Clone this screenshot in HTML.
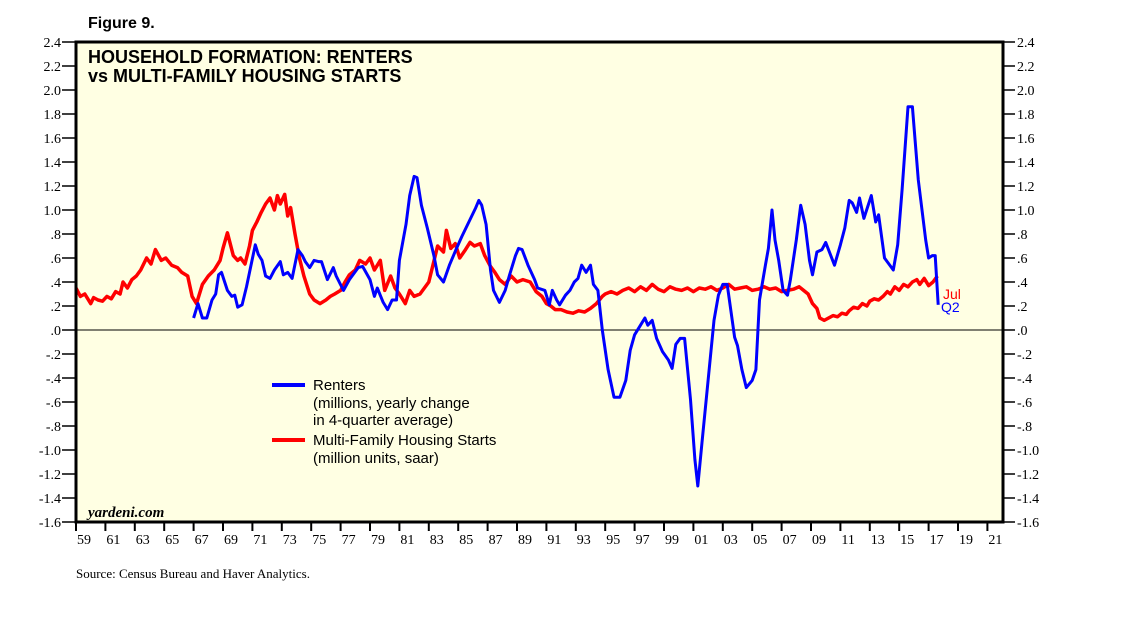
<!DOCTYPE html>
<html><head><meta charset="utf-8"><style>
body{margin:0;background:#fff;width:1138px;height:621px;overflow:hidden}
svg{display:block}
</style></head><body>
<svg id="chart" width="1138" height="621" xmlns="http://www.w3.org/2000/svg">
<text x="88" y="28" font-family="Liberation Sans,sans-serif" font-weight="bold" font-size="16">Figure 9.</text>
<rect x="76" y="42" width="927" height="480" fill="#FFFFE3"/>
<g id="ticks"></g>
<line x1="76" y1="330" x2="1003" y2="330" stroke="#000" stroke-width="1"/>
<g id="series"></g>
<rect x="76" y="42" width="927" height="480" fill="none" stroke="#000" stroke-width="3"/>
<text font-family="Liberation Sans,sans-serif" font-weight="bold" font-size="18"><tspan x="88" y="63">HOUSEHOLD FORMATION: RENTERS</tspan><tspan x="88" y="82">vs MULTI-FAMILY HOUSING STARTS</tspan></text>
<g font-family="Liberation Sans,sans-serif" font-size="15">
<line x1="272" y1="385" x2="305" y2="385" stroke="#0000FF" stroke-width="4"/>
<text x="313" y="390"><tspan x="313" y="390">Renters</tspan><tspan x="313" y="408">(millions, yearly change</tspan><tspan x="313" y="425">in 4-quarter average)</tspan></text>
<line x1="272" y1="440" x2="305" y2="440" stroke="#FF0000" stroke-width="4"/>
<text x="313" y="445"><tspan x="313" y="445">Multi-Family Housing Starts</tspan><tspan x="313" y="463">(million units, saar)</tspan></text>
</g>
<text x="943" y="299" fill="#FF0000" font-family="Liberation Sans,sans-serif" font-size="14">Jul</text>
<text x="941" y="312" fill="#0000FF" font-family="Liberation Sans,sans-serif" font-size="14">Q2</text>
<text x="88" y="517" font-family="Liberation Serif,serif" font-style="italic" font-weight="bold" font-size="15">yardeni.com</text>
<text x="76" y="578" font-family="Liberation Serif,serif" font-size="13">Source: Census Bureau and Haver Analytics.</text>
</svg>
<script>
const yTicks=[2.4,2.2,2.0,1.8,1.6,1.4,1.2,1.0,0.8,0.6,0.4,0.2,0,-0.2,-0.4,-0.6,-0.8,-1.0,-1.2,-1.4,-1.6];
const xLabels=["59","61","63","65","67","69","71","73","75","77","79","81","83","85","87","89","91","93","95","97","99","01","03","05","07","09","11","13","15","17","19","21"];
const rentersYears=[1967.0,1967.3,1967.6,1967.9,1968.25,1968.5,1968.7,1968.9,1969.3,1969.6,1969.8,1970.0,1970.3,1970.6,1970.8,1971.2,1971.4,1971.65,1971.9,1972.2,1972.5,1972.9,1973.1,1973.4,1973.7,1974.1,1974.4,1974.6,1974.9,1975.2,1975.5,1975.7,1976.1,1976.5,1976.7,1977.2,1977.6,1978.2,1978.5,1979.0,1979.3,1979.5,1979.9,1980.2,1980.5,1980.8,1981.0,1981.45,1981.7,1982.0,1982.2,1982.5,1982.9,1983.35,1983.6,1984.0,1984.4,1984.85,1985.25,1985.8,1986.2,1986.4,1986.6,1986.9,1987.2,1987.4,1987.8,1988.2,1988.5,1988.9,1989.1,1989.35,1989.75,1990.2,1990.4,1990.9,1991.2,1991.4,1991.7,1991.9,1992.3,1992.6,1992.9,1993.15,1993.4,1993.7,1994.0,1994.2,1994.5,1994.8,1995.2,1995.6,1996.0,1996.4,1996.7,1997.0,1997.4,1997.7,1997.9,1998.2,1998.5,1998.9,1999.3,1999.55,1999.8,2000.1,2000.4,2000.8,2001.1,2001.3,2001.6,2002.0,2002.4,2002.7,2003.0,2003.3,2003.8,2004.0,2004.3,2004.6,2005.0,2005.25,2005.5,2005.9,2006.1,2006.35,2006.55,2006.8,2007.1,2007.4,2007.6,2008.0,2008.3,2008.6,2008.9,2009.1,2009.4,2009.75,2010.0,2010.6,2011.0,2011.3,2011.6,2011.8,2012.1,2012.3,2012.6,2013.1,2013.4,2013.6,2014.0,2014.6,2014.9,2015.2,2015.6,2015.9,2016.3,2016.8,2017.0,2017.25,2017.45,2017.65];
const rentersValues=[0.1,0.22,0.1,0.1,0.25,0.3,0.46,0.48,0.33,0.28,0.29,0.19,0.21,0.36,0.48,0.71,0.63,0.58,0.45,0.43,0.5,0.57,0.46,0.48,0.43,0.67,0.62,0.57,0.52,0.58,0.57,0.57,0.42,0.52,0.45,0.33,0.42,0.52,0.53,0.42,0.28,0.35,0.23,0.17,0.25,0.25,0.58,0.88,1.12,1.28,1.27,1.04,0.85,0.62,0.46,0.4,0.54,0.67,0.78,0.92,1.02,1.08,1.04,0.88,0.5,0.33,0.23,0.33,0.46,0.62,0.68,0.67,0.54,0.42,0.35,0.33,0.21,0.33,0.25,0.21,0.29,0.33,0.4,0.43,0.54,0.48,0.54,0.38,0.33,0.0,-0.33,-0.56,-0.56,-0.42,-0.17,-0.04,0.04,0.1,0.04,0.08,-0.07,-0.18,-0.25,-0.32,-0.12,-0.07,-0.07,-0.58,-1.08,-1.3,-0.92,-0.42,0.08,0.29,0.38,0.38,-0.06,-0.13,-0.33,-0.48,-0.42,-0.33,0.25,0.54,0.68,1.0,0.75,0.58,0.33,0.29,0.42,0.75,1.04,0.88,0.58,0.46,0.65,0.67,0.73,0.54,0.71,0.85,1.08,1.06,0.98,1.1,0.93,1.12,0.9,0.96,0.6,0.5,0.71,1.17,1.86,1.86,1.25,0.75,0.6,0.62,0.62,0.21];
const startsYears=[1959.0,1959.3,1959.6,1960.0,1960.2,1960.5,1960.8,1961.1,1961.4,1961.7,1962.0,1962.2,1962.5,1962.8,1963.1,1963.4,1963.8,1964.1,1964.4,1964.8,1965.1,1965.5,1965.9,1966.2,1966.6,1966.9,1967.2,1967.6,1968.0,1968.4,1968.8,1969.0,1969.3,1969.7,1970.0,1970.2,1970.5,1970.8,1971.0,1971.3,1971.6,1971.9,1972.2,1972.5,1972.7,1972.9,1973.2,1973.4,1973.6,1973.9,1974.2,1974.5,1974.9,1975.2,1975.6,1976.0,1976.3,1976.6,1977.0,1977.3,1977.6,1978.0,1978.3,1978.7,1979.0,1979.3,1979.7,1980.0,1980.4,1980.7,1981.0,1981.4,1981.7,1982.0,1982.4,1982.7,1983.0,1983.3,1983.6,1984.0,1984.2,1984.5,1984.8,1985.1,1985.5,1985.8,1986.1,1986.5,1986.8,1987.2,1987.5,1987.8,1988.2,1988.6,1989.0,1989.4,1989.9,1990.3,1990.7,1991.0,1991.3,1991.6,1992.0,1992.4,1992.8,1993.2,1993.6,1994.0,1994.4,1994.8,1995.0,1995.4,1995.8,1996.2,1996.6,1997.0,1997.4,1997.8,1998.2,1998.6,1999.0,1999.4,1999.8,2000.2,2000.6,2001.0,2001.4,2001.8,2002.2,2002.6,2003.0,2003.4,2003.8,2004.2,2004.6,2005.0,2005.4,2005.8,2006.2,2006.6,2007.0,2007.4,2007.8,2008.2,2008.5,2008.8,2009.1,2009.4,2009.6,2009.9,2010.2,2010.5,2010.8,2011.1,2011.4,2011.6,2011.9,2012.2,2012.5,2012.8,2013.0,2013.3,2013.6,2013.9,2014.2,2014.4,2014.7,2015.0,2015.3,2015.6,2015.9,2016.2,2016.4,2016.7,2017.0,2017.3,2017.6];
const startsValues=[0.35,0.28,0.3,0.22,0.27,0.25,0.24,0.28,0.26,0.32,0.3,0.4,0.35,0.42,0.45,0.5,0.6,0.55,0.67,0.58,0.6,0.54,0.52,0.48,0.45,0.28,0.22,0.38,0.45,0.5,0.58,0.68,0.81,0.62,0.58,0.6,0.55,0.7,0.83,0.9,0.98,1.05,1.1,1.0,1.12,1.05,1.13,0.95,1.02,0.8,0.6,0.45,0.3,0.25,0.22,0.25,0.28,0.3,0.33,0.4,0.46,0.5,0.58,0.55,0.6,0.5,0.58,0.33,0.45,0.35,0.3,0.22,0.33,0.28,0.3,0.35,0.4,0.55,0.7,0.65,0.83,0.68,0.72,0.6,0.67,0.73,0.7,0.72,0.62,0.53,0.48,0.42,0.38,0.45,0.4,0.42,0.4,0.32,0.28,0.22,0.2,0.17,0.17,0.15,0.14,0.16,0.15,0.18,0.22,0.28,0.3,0.32,0.3,0.33,0.35,0.32,0.36,0.33,0.38,0.34,0.32,0.36,0.34,0.33,0.35,0.32,0.35,0.34,0.36,0.33,0.35,0.38,0.34,0.35,0.36,0.33,0.34,0.36,0.34,0.35,0.32,0.33,0.34,0.36,0.33,0.3,0.22,0.18,0.1,0.08,0.1,0.12,0.11,0.14,0.13,0.16,0.19,0.18,0.22,0.2,0.24,0.26,0.25,0.28,0.32,0.3,0.36,0.33,0.38,0.36,0.4,0.42,0.38,0.43,0.37,0.4,0.45,0.38,0.32];
const NS='http://www.w3.org/2000/svg';
const X0=76,PXY=14.7,Y0=330,PXV=120;
function xs(year){return X0+(year-1959)*PXY;}
function ys(v){return Y0-v*PXV;}
const tg=document.getElementById('ticks');
const svg=document.getElementById('chart');
yTicks.forEach(v=>{
  const y=ys(v);
  const lab=(v<0?'-':'')+(Math.abs(v)<1?Math.abs(v).toFixed(1).replace(/^0/,''):Math.abs(v).toFixed(1));
  const l1=document.createElementNS(NS,'line');
  l1.setAttribute('x1',62);l1.setAttribute('x2',76);l1.setAttribute('y1',y);l1.setAttribute('y2',y);l1.setAttribute('stroke','#000');l1.setAttribute('stroke-width','1.5');
  
  
  svg.insertBefore(l1,tg);
  const l2=document.createElementNS(NS,'line');
  l2.setAttribute('x1',1003);l2.setAttribute('x2',1015);l2.setAttribute('y1',y);l2.setAttribute('y2',y);l2.setAttribute('stroke','#000');l2.setAttribute('stroke-width','1.5');
  
  
  svg.insertBefore(l2,tg);
  const t=document.createElementNS(NS,'text');
  t.setAttribute('x',61);t.setAttribute('y',y+5);t.setAttribute('text-anchor','end');
  t.setAttribute('font-family','Liberation Serif,serif');t.setAttribute('font-size','14');
  t.textContent=lab;
  
  
  svg.appendChild(t);
  const t2=document.createElementNS(NS,'text');
  t2.setAttribute('x',1017);t2.setAttribute('y',y+5);
  t2.setAttribute('font-family','Liberation Serif,serif');t2.setAttribute('font-size','14');
  t2.textContent=lab;
  
  
  svg.appendChild(t2);
});
xLabels.forEach((s,i)=>{
  const x=xs(1959+2*i);
  const l=document.createElementNS(NS,'line');
  l.setAttribute('x1',x);l.setAttribute('x2',x);l.setAttribute('y1',522);l.setAttribute('y2',531);l.setAttribute('stroke','#000');l.setAttribute('stroke-width','2');
  
  
  svg.appendChild(l);
  const t=document.createElementNS(NS,'text');
  t.setAttribute('x',x+1);t.setAttribute('y',544);
  t.setAttribute('font-family','Liberation Serif,serif');t.setAttribute('font-size','14');
  t.textContent=s;
  
  
  svg.appendChild(t);
});
const sg=document.getElementById('series');
function line(years,vals,color,name,w){
  const p=document.createElementNS(NS,'polyline');
  p.setAttribute('points',years.map((y,i)=>xs(y).toFixed(1)+','+ys(vals[i]).toFixed(1)).join(' '));
  p.setAttribute('fill','none');p.setAttribute('stroke',color);p.setAttribute('stroke-width',w);p.setAttribute('stroke-linejoin','round');
  
  
  sg.appendChild(p);
}
line(startsYears,startsValues,'#FF0000','starts-line','3.5');
line(rentersYears,rentersValues,'#0000FF','renters-line','3');
</script>
</body></html>
